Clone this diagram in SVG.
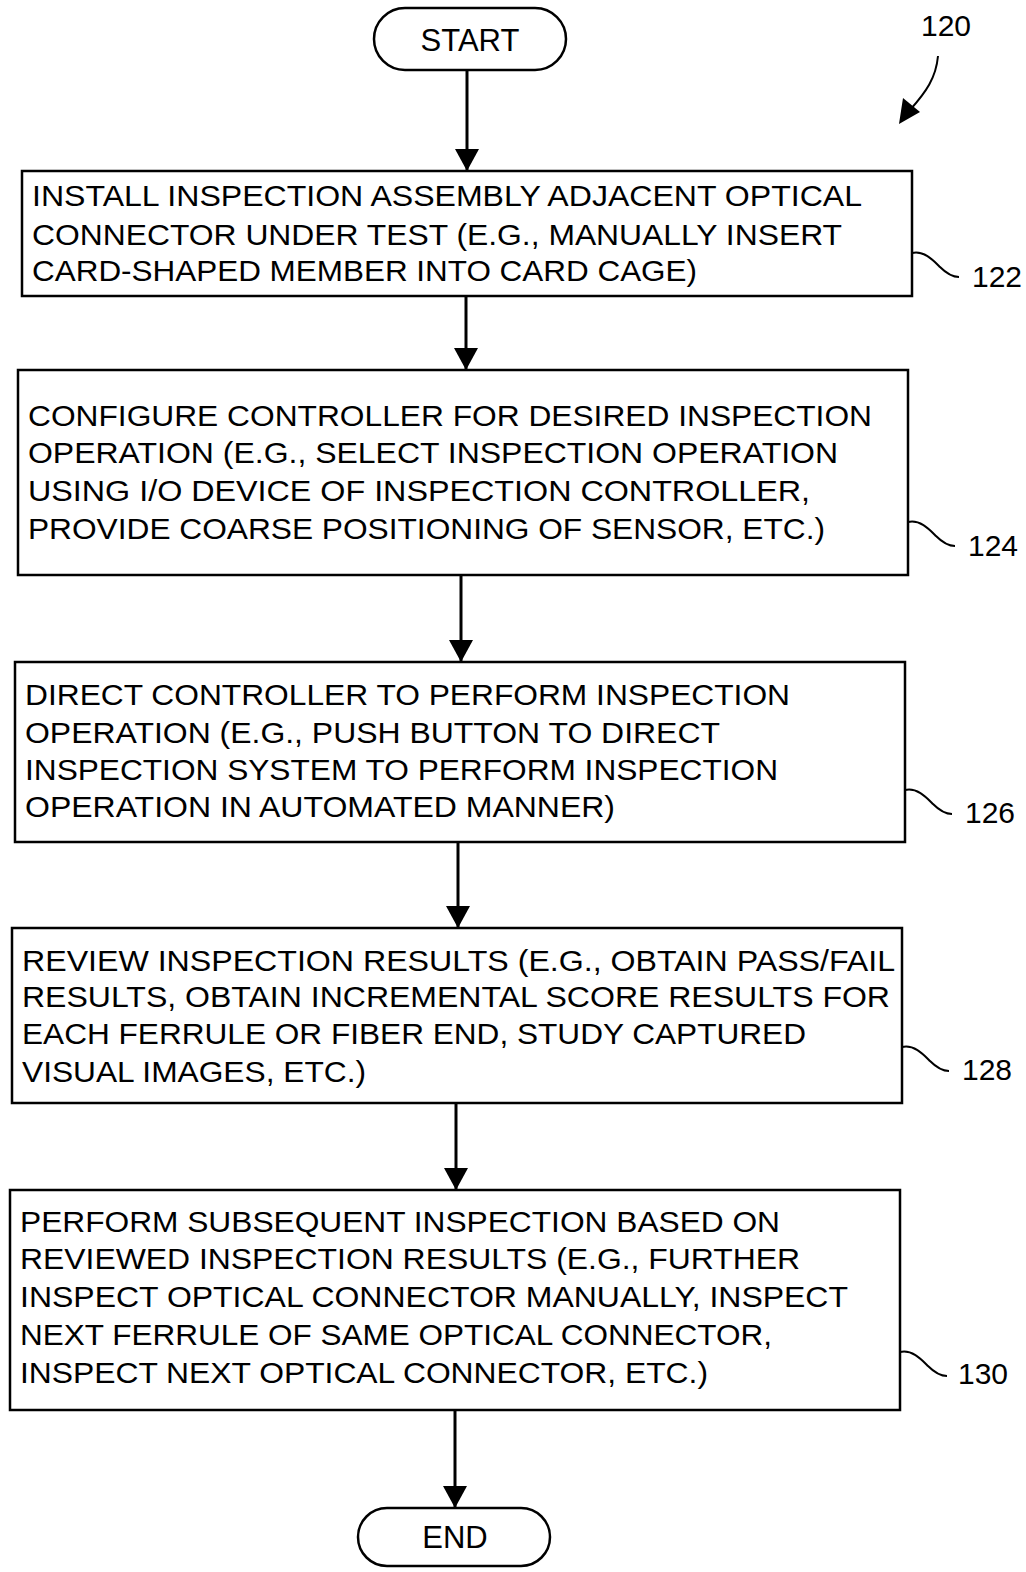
<svg xmlns="http://www.w3.org/2000/svg" width="1026" height="1572" viewBox="0 0 1026 1572">
<style>
.box{fill:#fff;stroke:#000;stroke-width:2.5}
.t{font-family:"Liberation Sans",Arial,sans-serif;font-size:30px;fill:#000}
.lbl{font-family:"Liberation Sans",Arial,sans-serif;font-size:30px;fill:#000}
.term{font-family:"Liberation Sans",Arial,sans-serif;font-size:31px;fill:#000}
.c{fill:none;stroke:#000;stroke-width:3}
.sq{fill:none;stroke:#000;stroke-width:2}
</style>
<defs>
<marker id="ah2" markerWidth="22" markerHeight="24" refX="22" refY="12" orient="auto" markerUnits="userSpaceOnUse" viewBox="0 0 22 24">
<path d="M0,0 L22,12 L0,24 Z" fill="#000"/>
</marker>
</defs>
<rect width="1026" height="1572" fill="#fff"/>

<g id="connectors">
<line class="c" x1="467" y1="70" x2="467" y2="171" marker-end="url(#ah2)"/>
<line class="c" x1="466" y1="296" x2="466" y2="370" marker-end="url(#ah2)"/>
<line class="c" x1="461" y1="575" x2="461" y2="662" marker-end="url(#ah2)"/>
<line class="c" x1="458" y1="842" x2="458" y2="928" marker-end="url(#ah2)"/>
<line class="c" x1="456" y1="1103" x2="456" y2="1190" marker-end="url(#ah2)"/>
<line class="c" x1="455" y1="1410" x2="455" y2="1508" marker-end="url(#ah2)"/>
</g>

<g id="start">
<rect class="box" x="374" y="8" width="192" height="62" rx="31" ry="31"/>
<text class="term" x="470" y="51" text-anchor="middle">START</text>
</g>

<g id="ref120">
<text class="lbl" x="946" y="36" text-anchor="middle">120</text>
<path class="sq" d="M938 56 C936 78 926 92 910 110"/>
<path d="M899 124 L903 98 L920 112 Z" fill="#000"/>
</g>

<g id="n122">
<rect class="box" x="22" y="171" width="890" height="125"/>
<text class="t" x="32" y="206" textLength="830" lengthAdjust="spacingAndGlyphs">INSTALL INSPECTION ASSEMBLY ADJACENT OPTICAL</text>
<text class="t" x="32" y="245" textLength="810" lengthAdjust="spacingAndGlyphs">CONNECTOR UNDER TEST (E.G., MANUALLY INSERT</text>
<text class="t" x="32" y="281" textLength="665" lengthAdjust="spacingAndGlyphs">CARD-SHAPED MEMBER INTO CARD CAGE)</text>
<path class="sq" d="M912 253 c12 -3 22 8 28 14 s12 10 19 10"/>
<text class="lbl" x="972" y="287">122</text>
</g>

<g id="n124">
<rect class="box" x="18" y="370" width="890" height="205"/>
<text class="t" x="28" y="426" textLength="844" lengthAdjust="spacingAndGlyphs">CONFIGURE CONTROLLER FOR DESIRED INSPECTION</text>
<text class="t" x="28" y="463" textLength="810" lengthAdjust="spacingAndGlyphs">OPERATION (E.G., SELECT INSPECTION OPERATION</text>
<text class="t" x="28" y="501" textLength="782" lengthAdjust="spacingAndGlyphs">USING I/O DEVICE OF INSPECTION CONTROLLER,</text>
<text class="t" x="28" y="539" textLength="797" lengthAdjust="spacingAndGlyphs">PROVIDE COARSE POSITIONING OF SENSOR, ETC.)</text>
<path class="sq" d="M908 522 c12 -3 22 8 28 14 s12 10 19 10"/>
<text class="lbl" x="968" y="556">124</text>
</g>

<g id="n126">
<rect class="box" x="15" y="662" width="890" height="180"/>
<text class="t" x="25" y="705" textLength="765" lengthAdjust="spacingAndGlyphs">DIRECT CONTROLLER TO PERFORM INSPECTION</text>
<text class="t" x="25" y="743" textLength="695" lengthAdjust="spacingAndGlyphs">OPERATION (E.G., PUSH BUTTON TO DIRECT</text>
<text class="t" x="25" y="780" textLength="753" lengthAdjust="spacingAndGlyphs">INSPECTION SYSTEM TO PERFORM INSPECTION</text>
<text class="t" x="25" y="817" textLength="590" lengthAdjust="spacingAndGlyphs">OPERATION IN AUTOMATED MANNER)</text>
<path class="sq" d="M905 790 c12 -3 22 8 28 14 s12 10 19 10"/>
<text class="lbl" x="965" y="823">126</text>
</g>

<g id="n128">
<rect class="box" x="12" y="928" width="890" height="175"/>
<text class="t" x="22" y="971" textLength="873" lengthAdjust="spacingAndGlyphs">REVIEW INSPECTION RESULTS (E.G., OBTAIN PASS/FAIL</text>
<text class="t" x="22" y="1007" textLength="868" lengthAdjust="spacingAndGlyphs">RESULTS, OBTAIN INCREMENTAL SCORE RESULTS FOR</text>
<text class="t" x="22" y="1044" textLength="784" lengthAdjust="spacingAndGlyphs">EACH FERRULE OR FIBER END, STUDY CAPTURED</text>
<text class="t" x="22" y="1082" textLength="344" lengthAdjust="spacingAndGlyphs">VISUAL IMAGES, ETC.)</text>
<path class="sq" d="M902 1047 c12 -3 22 8 28 14 s12 10 19 10"/>
<text class="lbl" x="962" y="1080">128</text>
</g>

<g id="n130">
<rect class="box" x="10" y="1190" width="890" height="220"/>
<text class="t" x="20" y="1232" textLength="760" lengthAdjust="spacingAndGlyphs">PERFORM SUBSEQUENT INSPECTION BASED ON</text>
<text class="t" x="20" y="1269" textLength="780" lengthAdjust="spacingAndGlyphs">REVIEWED INSPECTION RESULTS (E.G., FURTHER</text>
<text class="t" x="20" y="1307" textLength="828" lengthAdjust="spacingAndGlyphs">INSPECT OPTICAL CONNECTOR MANUALLY, INSPECT</text>
<text class="t" x="20" y="1345" textLength="752" lengthAdjust="spacingAndGlyphs">NEXT FERRULE OF SAME OPTICAL CONNECTOR,</text>
<text class="t" x="20" y="1383" textLength="688" lengthAdjust="spacingAndGlyphs">INSPECT NEXT OPTICAL CONNECTOR, ETC.)</text>
<path class="sq" d="M900 1352 c12 -3 22 8 28 14 s12 10 19 10"/>
<text class="lbl" x="958" y="1384">130</text>
</g>

<g id="end">
<rect class="box" x="358" y="1508" width="192" height="58" rx="29" ry="29"/>
<text class="term" x="455" y="1548" text-anchor="middle">END</text>
</g>
</svg>
